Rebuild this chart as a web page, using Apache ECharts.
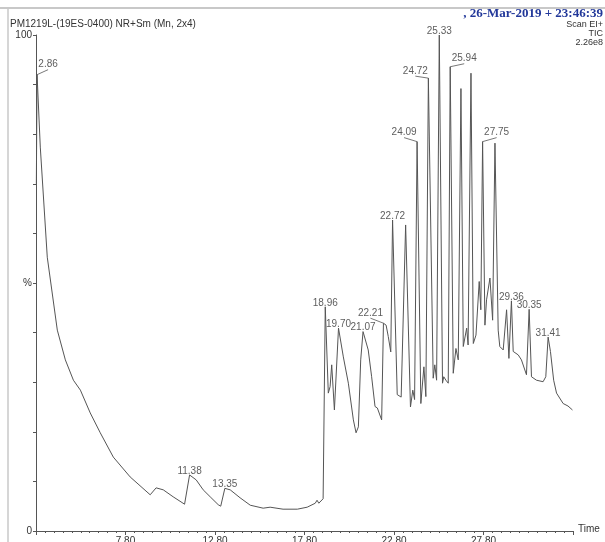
<!DOCTYPE html>
<html>
<head>
<meta charset="utf-8">
<script src="https://cdn.jsdelivr.net/npm/echarts@6/dist/echarts.min.js"></script>
<style>
  html, body { margin: 0; padding: 0; background: #fff; }
  #chart { width: 605px; height: 542px; }
</style>
</head>
<body>
<div id="chart"></div>
<script>
// retention time (min) and relative intensity (%)
const times = [
  2.82, 2.86, 3.04, 3.43, 3.99, 4.44, 4.89, 5.28, 5.83, 6.39, 7.12, 8.06, 9.18, 9.29, 9.51, 9.91,
  10.46, 11.10, 11.38, 11.75, 12.14, 12.53, 12.98, 13.12, 13.35, 13.65, 14.20, 14.77, 15.49, 15.88,
  16.60, 17.40, 17.95, 18.40, 18.50, 18.60, 18.84, 18.96, 19.13, 19.23, 19.32, 19.47, 19.70, 19.97,
  20.25, 20.53, 20.68, 20.81, 20.94, 21.07, 21.36, 21.55, 21.74, 21.87, 22.11, 22.21, 22.36, 22.48,
  22.62, 22.72, 22.98, 23.20, 23.45, 23.72, 23.85, 23.95, 24.09, 24.30, 24.47, 24.58, 24.72, 24.99,
  25.08, 25.18, 25.33, 25.51, 25.58, 25.70, 25.83, 25.94, 26.11, 26.26, 26.39, 26.54, 26.67, 26.86,
  26.94, 27.10, 27.23, 27.38, 27.56, 27.65, 27.75, 27.88, 27.97, 28.16, 28.31, 28.44, 28.62, 28.71,
  28.90, 29.09, 29.22, 29.36, 29.46, 29.74, 29.92, 30.20, 30.35, 30.48, 30.76, 31.13, 31.28, 31.41,
  31.54, 31.72, 31.88, 32.25, 32.52, 32.77
];
const intensity = [
  70, 92, 77.4, 55.2, 40.5, 34.5, 30.4, 28.4, 23.8, 19.8, 14.9, 10.9, 7.3, 6.9, 8.7, 8.3,
  6.9, 5.4, 11.3, 10.3, 8.3, 6.9, 5.3, 5.0, 8.6, 8.3, 6.7, 5.2, 4.6, 4.8,
  4.4, 4.4, 4.8, 5.6, 6.2, 5.6, 6.5, 45.2, 27.8, 29.1, 33.5, 24.4, 40.9, 35.1,
  29.8, 22.4, 19.8, 21.0, 34.5, 40.2, 36.5, 31.1, 25.1, 24.8, 22.4, 41.9, 41.5, 39.2,
  36.1, 62.7, 27.5, 27.0, 61.7, 25.0, 28.4, 26.5, 78.5, 25.7, 33.1, 27.1, 91.3, 30.8,
  33.5, 30.4, 100, 29.8, 31.1, 30.4, 29.8, 93.6, 31.8, 36.8, 34.5, 89.2, 37.2, 40.9,
  37.5, 92.3, 37.8, 39.5, 50.3, 44.6, 78.5, 41.5, 46.6, 51.0, 42.5, 78.2, 40.5, 37.2,
  36.5, 44.6, 34.8, 46.4, 36.2, 35.5, 34.5, 31.5, 44.7, 31.1, 30.4, 30.1, 31.1, 39.1,
  36.2, 30.4, 27.8, 25.7, 25.2, 24.4
];

// labelled peaks
const peakTimes = [2.86, 11.38, 13.35, 18.96, 19.70, 21.07, 22.21, 22.72, 24.09, 24.72, 25.33, 25.94, 27.75, 29.36, 30.35, 31.41];
const peakValues = [92, 11.3, 8.6, 45.2, 40.9, 40.2, 41.9, 62.7, 78.5, 91.3, 100, 93.6, 78.5, 46.4, 44.7, 39.1];
const peakLabels = ['2.86', '11.38', '13.35', '18.96', '19.70', '21.07', '22.21', '22.72', '24.09', '24.72', '25.33', '25.94', '27.75', '29.36', '30.35', '31.41'];

// axis ticks
const xMin = 2.8, xMax = 32.8, xStep = 5;
const yLabels = { 0: '0', 50: '%', 100: '100' };

// labels that sit to one side of their peak with a short leader
const sideLabel = {
  '2.86': [11, -10], '22.21': [-13, -10], '24.09': [-13, -9],
  '24.72': [-13, -7], '25.94': [14, -8], '27.75': [14, -9]
};

const chart = echarts.init(document.getElementById('chart'));
const lineData = times.map((t, i) => [t, intensity[i]]);
const peakData = peakTimes.map((t, i) => {
  const off = sideLabel[peakLabels[i]];
  return {
    value: [t, peakValues[i]],
    name: peakLabels[i],
    label: { offset: off || [0, -4] },
    labelLine: { show: !!off }
  };
});

const fontMain = 'Liberation Sans, Arial, sans-serif';
chart.setOption({
  animation: false,
  grid: { left: 36, right: 32, top: 35, bottom: 11, outerBoundsMode: 'none' },
  xAxis: {
    type: 'value', min: xMin, max: xMax, interval: xStep,
    name: 'Time', nameLocation: 'end', nameGap: 5,
    nameTextStyle: { color: '#333', fontSize: 10, fontFamily: fontMain, align: 'left', verticalAlign: 'bottom', padding: [0, 0, -3, 0] },
    axisLine: { lineStyle: { color: '#555', width: 1 } },
    axisTick: { length: 4, lineStyle: { color: '#555' } },
    minorTick: { show: true, splitNumber: 10, length: 2, lineStyle: { color: '#555' } },
    splitLine: { show: false },
    axisLabel: {
      color: '#333', fontSize: 10, fontFamily: fontMain, margin: 5,
      showMinLabel: false, showMaxLabel: false,
      formatter: v => (v <= xMin + 0.01 || v >= xMax - 0.01) ? '' : v.toFixed(2)
    }
  },
  yAxis: {
    type: 'value', min: 0, max: 100, interval: 10,
    axisLine: { show: true, lineStyle: { color: '#555', width: 1 } },
    axisTick: { show: true, length: 3, lineStyle: { color: '#555' } },
    splitLine: { show: false },
    axisLabel: {
      color: '#333', fontSize: 10, fontFamily: fontMain, margin: 4,
      formatter: v => yLabels[v] || ''
    }
  },
  graphic: [
    { type: 'line', shape: { x1: 0, y1: 8, x2: 605, y2: 8 }, style: { stroke: '#c8c8c8', lineWidth: 2 } },
    { type: 'line', shape: { x1: 8, y1: 8, x2: 8, y2: 542 }, style: { stroke: '#c8c8c8', lineWidth: 1.5 } },
    { type: 'text', left: 10, top: 19, style: { text: 'PM1219L-(19ES-0400) NR+Sm (Mn, 2x4)', fill: '#333', font: '10px ' + fontMain } },
    { type: 'text', right: 2, top: 7, style: { text: ', 26-Mar-2019 + 23:46:39', fill: '#22389a', font: 'bold 13px Liberation Serif, Times New Roman, serif' } },
    { type: 'text', right: 2, top: 20, style: { text: 'Scan EI+', fill: '#333', font: '9px ' + fontMain } },
    { type: 'text', right: 2, top: 29, style: { text: 'TIC', fill: '#333', font: '9px ' + fontMain } },
    { type: 'text', right: 2, top: 38, style: { text: '2.26e8', fill: '#333', font: '9px ' + fontMain } }
  ],
  series: [
    {
      type: 'line', data: lineData, showSymbol: false, symbol: 'none',
      lineStyle: { color: '#555', width: 1 }, z: 2
    },
    {
      type: 'scatter', data: peakData, symbolSize: 0, silent: true, z: 3,
      label: {
        show: true, position: 'inside', formatter: '{b}',
        color: '#333', fontSize: 10, fontFamily: fontMain
      },
      labelLine: { lineStyle: { color: '#555', width: 0.8 } }
    }
  ]
});
</script>
</body>
</html>
